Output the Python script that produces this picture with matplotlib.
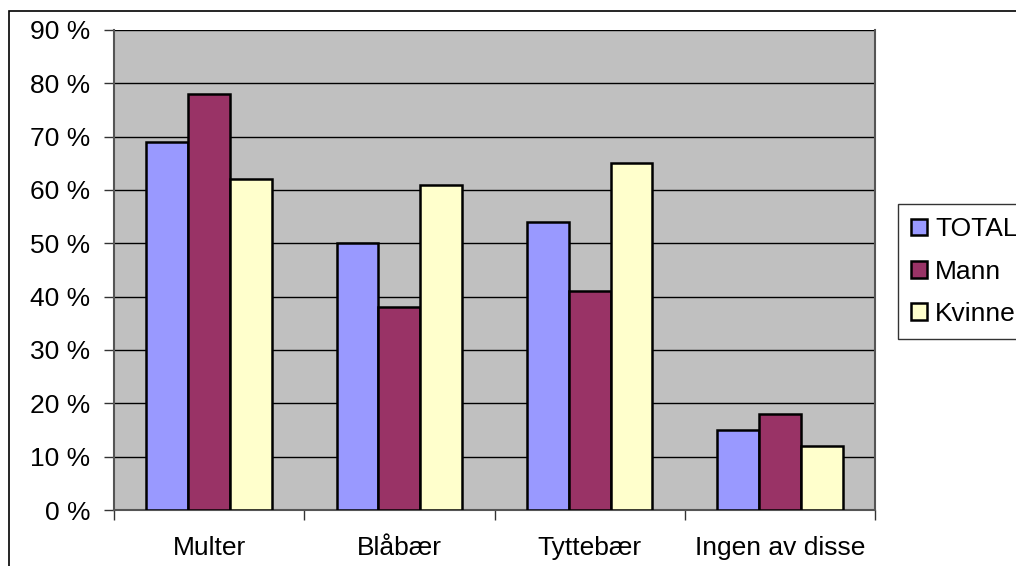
import numpy as np
import matplotlib.pyplot as plt
from matplotlib.patches import Rectangle

# Data
categories = ['Multer', 'Blåbær', 'Tyttebær', 'Ingen av disse']
series_names = ['TOTAL', 'Mann', 'Kvinne']
total = [69, 50, 54, 15]
mann = [78, 38, 41, 18]
kvinne = [62, 61, 65, 12]
y_ticks = np.arange(0, 100, 10)

colors = ['#9999FF', '#993366', '#FFFFCC']

plt.rcParams['font.family'] = ['Liberation Sans', 'DejaVu Sans']

fig = plt.figure(figsize=(10.16, 5.66), dpi=100)
ax = fig.add_axes([114 / 1016, 1 - 510 / 566, 761 / 1016, 480 / 566])

# outer chart border (right/bottom run off the picture)
fig.patches.append(Rectangle((9 / 1016, -0.1), 1.2, 1 - 11 / 566 + 0.1,
                             transform=fig.transFigure, fill=False,
                             edgecolor='black', linewidth=1.2))

x = np.arange(len(categories))
width = 0.22
for i, (vals, name) in enumerate(zip([total, mann, kvinne], series_names)):
    ax.bar(x + (i - 1) * width, vals, width, color=colors[i], edgecolor='black',
           linewidth=1.8, label=name, zorder=3)

ax.set_facecolor('#C0C0C0')
ax.set_xlim(-0.5, len(categories) - 0.5)
ax.set_ylim(0, 90)
ax.set_yticks(y_ticks)
ax.set_yticklabels([f'{v} %' for v in y_ticks], fontsize=19)
ax.yaxis.grid(True, color='black', linewidth=1)
ax.set_axisbelow(True)

ax.set_xticks(x)
ax.set_xticklabels(categories, fontsize=19)
ax.tick_params(axis='x', which='major', length=0, pad=19)
ax.set_xticks(np.arange(-0.5, len(categories)), minor=True)
ax.tick_params(axis='x', which='minor', length=7, color='#333333', width=1)
ax.tick_params(axis='y', length=7, color='#333333', width=1, pad=10)

for s in ['left', 'right', 'bottom']:
    ax.spines[s].set_color('#555555')
    ax.spines[s].set_linewidth(1.5)
ax.spines['top'].set_visible(False)

leg = fig.legend(loc='upper left', bbox_to_anchor=(898 / 1016, 1 - 204 / 566),
                 fontsize=19, frameon=True, fancybox=False, handlelength=0.6,
                 handleheight=0.6, handletextpad=0.3, labelspacing=0.7,
                 borderpad=0.5, borderaxespad=0)
leg.get_frame().set_edgecolor('black')
leg.get_frame().set_linewidth(1)

fig.savefig('out.png', dpi=100)
